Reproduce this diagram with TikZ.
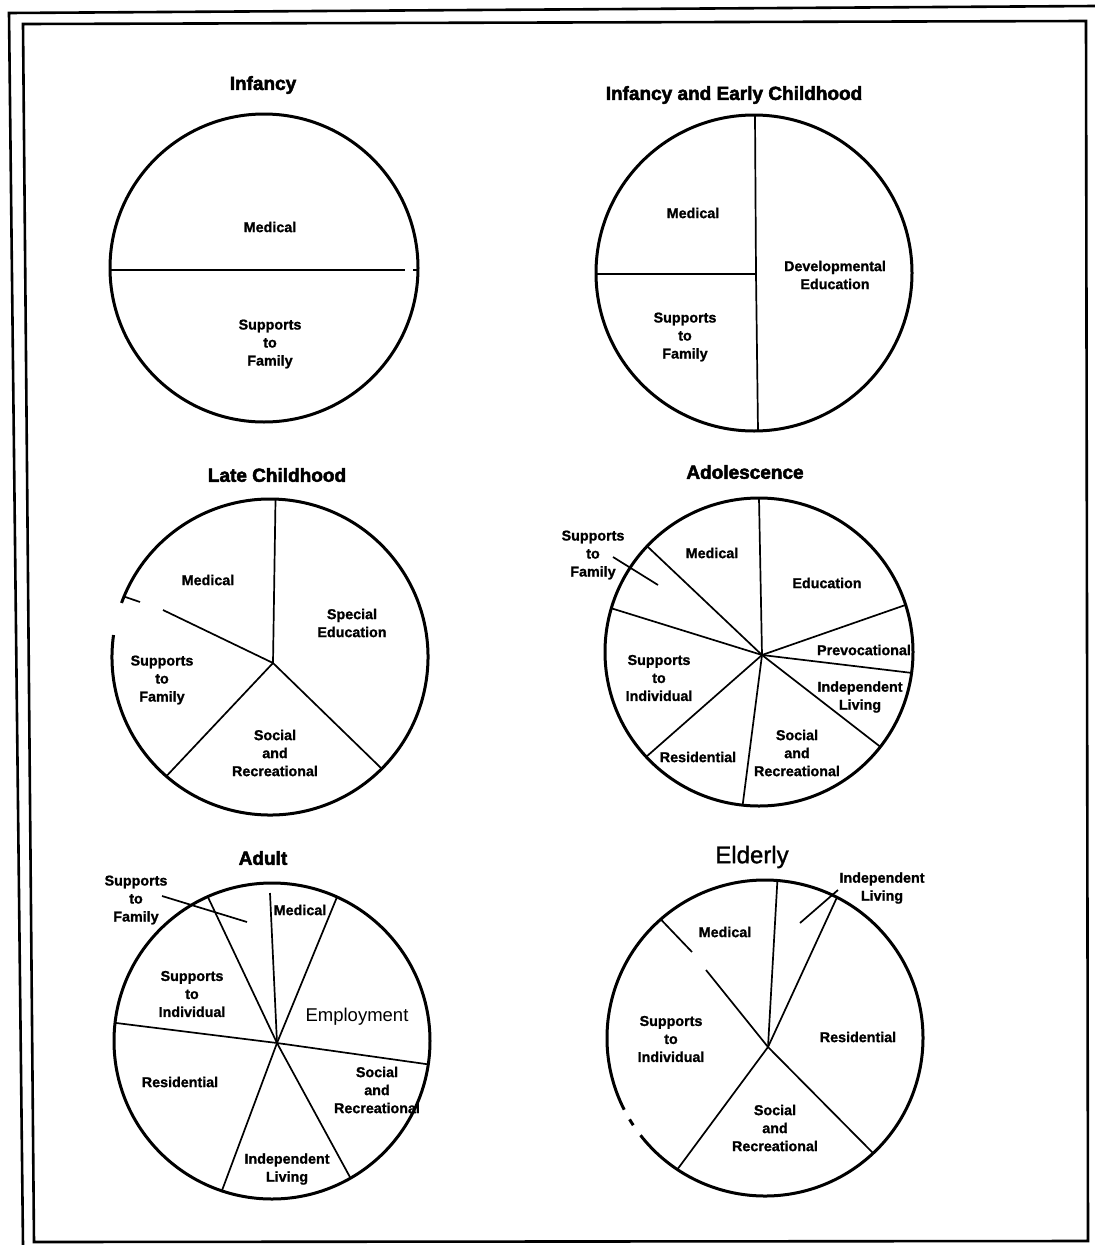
\documentclass[tikz,border=0pt]{standalone}
\usepackage{fontspec}
\setmainfont{Liberation Sans}
\newfontfamily\chartfont{Liberation Sans}[BoldFeatures={FakeBold=1.2}]
\newfontfamily\headfont{Liberation Sans}[BoldFeatures={FakeBold=2.6}]
\newfontfamily\plainheavy{Liberation Sans}[FakeBold=1.3]
\usetikzlibrary{calc}
\begin{document}
\begin{tikzpicture}[x=1pt,y=-1pt,
  rim/.style={line width=3pt},
  spoke/.style={line width=1.7pt},
  frameline/.style={line width=2.6pt, line join=miter},
  ttl/.style={font=\headfont\fontsize{19}{22}\selectfont\bfseries, inner sep=0pt},
  bigttl/.style={font=\plainheavy\fontsize{24}{28}\selectfont, inner sep=0pt},
  lbl/.style={font=\chartfont\fontsize{14.3}{18}\selectfont\bfseries, align=center, inner sep=0pt},
  biglbl/.style={font=\fontsize{18.5}{22}\selectfont, inner sep=0pt},
]
\useasboundingbox (0,0) rectangle (1095,1245);
\fill[white] (0,0) rectangle (1095,1245);

% ---------- double frame ----------
\coordinate (fo1) at (1095,6);
\coordinate (fo2) at (9,13);
\coordinate (fo3) at (23,1245);
\coordinate (fi1) at (23,24);
\coordinate (fi2) at (1086,21);
\coordinate (fi3) at (1088,1241);
\coordinate (fi4) at (34,1242);
\draw[frameline] (fo1) -- (fo2) -- (fo3);
\draw[frameline] (fi1) -- (fi2) -- (fi3) -- (fi4) -- cycle;

% ---------- Infancy ----------
\coordinate (inf-c) at (264,268);
\draw[rim] (inf-c) circle[radius=154pt];
\coordinate (inf-l) at (110,270);
\coordinate (inf-r) at (405,270);
\coordinate (inf-d1) at (413,270);
\coordinate (inf-d2) at (418,270);
\draw[spoke] (inf-l) -- (inf-r);
\draw[spoke] (inf-d1) -- (inf-d2);
\node[ttl] (inf-t) at (263,85) {Infancy};
\node[lbl] (inf-med) at (270,227) {Medical};
\node[lbl] (inf-fam) at (270,344) {Supports\\to\\Family};

% ---------- Infancy and Early Childhood ----------
\coordinate (iec-c) at (754,273);
\draw[rim] (iec-c) circle[radius=158pt];
\coordinate (iec-top) at (755,115);
\coordinate (iec-bot) at (758,431);
\coordinate (iec-hub) at (756,274);
\coordinate (iec-left) at (596,274);
\draw[spoke] (iec-top) -- (iec-hub) -- (iec-bot);
\draw[spoke] (iec-left) -- (iec-hub);
\node[ttl] (iec-t) at (734,95) {Infancy and Early Childhood};
\node[lbl] (iec-med) at (693,213) {Medical};
\node[lbl] (iec-dev) at (835,275) {Developmental\\Education};
\node[lbl] (iec-fam) at (685,337) {Supports\\to\\Family};

% ---------- Late Childhood ----------
\coordinate (lc-c) at (270,657);
\coordinate (lc-h) at (273,663);
\draw[rim] ($(lc-c)+(172:158pt)$) arc[start angle=172, end angle=520, radius=158pt];
\coordinate (lc-e1) at ($(lc-c)+(88:158pt)$);
\coordinate (lc-e2) at ($(lc-c)+(-45:158pt)$);
\coordinate (lc-e3) at ($(lc-c)+(-131:158pt)$);
\coordinate (lc-e4) at (163,610);
\coordinate (lc-k1) at ($(lc-c)+(157.5:158pt)$);
\coordinate (lc-k2) at (140,602);
\draw[spoke] (lc-h) -- (lc-e1);
\draw[spoke] (lc-h) -- (lc-e2);
\draw[spoke] (lc-h) -- (lc-e3);
\draw[spoke] (lc-h) -- (lc-e4);
\draw[spoke] (lc-k1) -- (lc-k2);
\node[ttl] (lc-t) at (277,475) {Late Childhood};
\node[lbl] (lc-med) at (208,580) {Medical};
\node[lbl] (lc-spe) at (352,623) {Special\\Education};
\node[lbl] (lc-fam) at (162,680) {Supports\\to\hspace*{46pt}\\Family};
\node[lbl] (lc-soc) at (275,753) {Social\\and\\Recreational};

% ---------- Adolescence ----------
\coordinate (ado-c) at (759,652);
\coordinate (ado-h) at (762,655);
\draw[rim] (ado-c) circle[radius=154pt];
\foreach \a [count=\i] in {90,136.6,163.5,222.9,263.9,-38,-7.8,17.8}
  \coordinate (ado-e\i) at ($(ado-c)+(\a:154pt)$);
\foreach \i in {1,...,8}
  \draw[spoke] (ado-h) -- (ado-e\i);
\coordinate (ado-f1) at (613,557);
\coordinate (ado-f2) at (658,585);
\draw[spoke] (ado-f1) -- (ado-f2);
\node[ttl] (ado-t) at (745,472) {Adolescence};
\node[lbl] (ado-fam) at (593,555) {Supports\\to\\Family};
\node[lbl] (ado-med) at (712,553) {Medical};
\node[lbl] (ado-edu) at (827,583) {Education};
\node[lbl] (ado-pre) at (864,650) {Prevocational};
\node[lbl] (ado-ind) at (860,697) {Independent\\Living};
\node[lbl] (ado-soc) at (797,753) {Social\\and\\Recreational};
\node[lbl] (ado-res) at (698,757) {Residential};
\node[lbl] (ado-sup) at (659,678) {Supports\\to\\Individual};

% ---------- Adult ----------
\coordinate (adu-c) at (272,1041);
\coordinate (adu-h) at (277,1043);
\draw[rim] (adu-c) circle[radius=158pt];
\coordinate (adu-e0) at (270,893);
\foreach \a [count=\i] in {65.7,114,173.4,-8.5,-60.2,-108.5}
  \coordinate (adu-e\i) at ($(adu-c)+(\a:158pt)$);
\foreach \i in {0,...,6}
  \draw[spoke] (adu-h) -- (adu-e\i);
\coordinate (adu-f1) at (162,896);
\coordinate (adu-f2) at (247,922);
\draw[spoke] (adu-f1) -- (adu-f2);
\node[ttl] (adu-t) at (263,858) {Adult};
\node[lbl] (adu-fam) at (136,900) {Supports\\to\hspace*{36pt}\\Family};
\node[lbl] (adu-med) at (300,910) {Medical};
\node[biglbl] (adu-emp) at (357,1017) {Employment};
\node[lbl] (adu-sup) at (192,994) {Supports\\to\\Individual};
\node[lbl] (adu-res) at (180,1082) {Residential};
\node[lbl] (adu-soc) at (377,1090) {Social\\and\\Recreational};
\node[lbl] (adu-ind) at (287,1169) {Independent\\Living};

% ---------- Elderly ----------
\coordinate (eld-c) at (765,1038);
\coordinate (eld-h) at (768,1047);
\draw[rim] ($(eld-c)+(218:158pt)$) arc[start angle=218, end angle=567, radius=158pt];
\draw[rim] ($(eld-c)+(211:158pt)$) arc[start angle=211, end angle=213.5, radius=158pt];
\coordinate (eld-e1) at ($(eld-c)+(85.5:158pt)$);
\coordinate (eld-e2) at ($(eld-c)+(62.9:158pt)$);
\coordinate (eld-e3) at ($(eld-c)+(131.3:158pt)$);
\coordinate (eld-e4) at ($(eld-c)+(-46.8:158pt)$);
\coordinate (eld-e5) at ($(eld-c)+(236.3:158pt)$);
\coordinate (eld-g1) at (692,952);
\coordinate (eld-g2) at (706,970);
\draw[spoke] (eld-h) -- (eld-e1);
\draw[spoke] (eld-h) -- (eld-e2);
\draw[spoke] (eld-e3) -- (eld-g1);
\draw[spoke] (eld-g2) -- (eld-h) -- (eld-e4);
\draw[spoke] (eld-h) -- (eld-e5);
\coordinate (eld-l1) at (800,923);
\coordinate (eld-l2) at (838,890);
\draw[spoke] (eld-l1) -- (eld-l2);
\node[bigttl] (eld-t) at (752,857) {Elderly};
\node[lbl] (eld-med) at (725,932) {Medical};
\node[lbl] (eld-ind) at (882,888) {Independent\\Living};
\node[lbl] (eld-res) at (858,1037) {Residential};
\node[lbl] (eld-sup) at (671,1039) {Supports\\to\\Individual};
\node[lbl] (eld-soc) at (775,1128) {Social\\and\\Recreational};
\end{tikzpicture}
\end{document}
